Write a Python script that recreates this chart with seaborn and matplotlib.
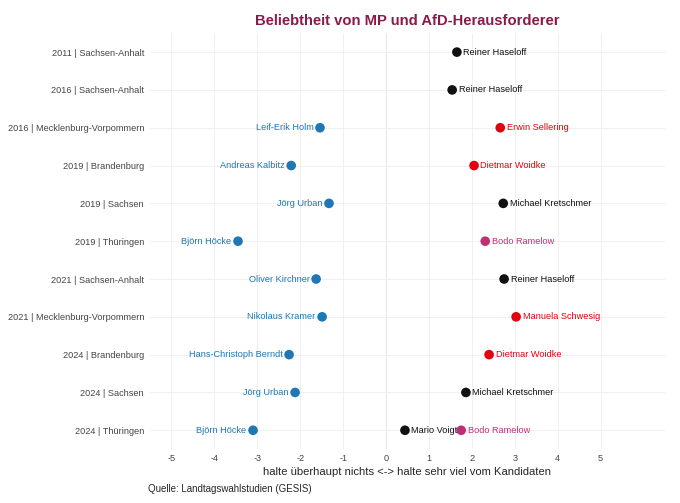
import matplotlib
matplotlib.use("Agg")
import matplotlib.pyplot as plt
import seaborn as sns
import pandas as pd

elections = ["2011 | Sachsen-Anhalt", "2016 | Sachsen-Anhalt", "2016 | Mecklenburg-Vorpommern",
             "2019 | Brandenburg", "2019 | Sachsen", "2019 | Thüringen", "2021 | Sachsen-Anhalt",
             "2021 | Mecklenburg-Vorpommern", "2024 | Brandenburg", "2024 | Sachsen", "2024 | Thüringen"]

# AfD challengers
afd_election = elections[2:]
afd_names = ["Leif-Erik Holm", "Andreas Kalbitz", "Jörg Urban", "Björn Höcke", "Oliver Kirchner",
             "Nikolaus Kramer", "Hans-Christoph Berndt", "Jörg Urban", "Björn Höcke"]
afd_values = [-1.54, -2.21, -1.33, -3.45, -1.63, -1.49, -2.26, -2.12, -3.10]

# Ministerpräsidenten (and CDU challenger 2024 TH)
mp_election = elections + ["2024 | Thüringen"]
mp_names = ["Reiner Haseloff", "Reiner Haseloff", "Erwin Sellering", "Dietmar Woidke", "Michael Kretschmer",
            "Bodo Ramelow", "Reiner Haseloff", "Manuela Schwesig", "Dietmar Woidke", "Michael Kretschmer",
            "Bodo Ramelow", "Mario Voigt"]
mp_values = [1.65, 1.54, 2.66, 2.05, 2.73, 2.31, 2.75, 3.03, 2.40, 1.86, 1.75, 0.44]
mp_party = ["CDU", "CDU", "SPD", "SPD", "CDU", "Linke", "CDU", "SPD", "SPD", "CDU", "Linke", "CDU"]

colors = {"AfD": "#1f77b4", "CDU": "#111111", "SPD": "#e3000f", "Linke": "#be3075"}

df = pd.concat([
    pd.DataFrame({"wahl": afd_election, "name": afd_names, "wert": afd_values, "partei": "AfD"}),
    pd.DataFrame({"wahl": mp_election, "name": mp_names, "wert": mp_values, "partei": mp_party}),
], ignore_index=True)
ypos = {w: i for i, w in enumerate(elections)}
df["y"] = df["wahl"].map(ypos)

sns.set_style("whitegrid")
plt.rcParams["font.family"] = ["Liberation Sans", "DejaVu Sans"]
plt.rcParams["axes.unicode_minus"] = False
fig, ax = plt.subplots(figsize=(6.8, 5.03), dpi=100)
ax.axvline(0, color="#cccccc", lw=0.8, zorder=0)
sns.scatterplot(data=df, x="wert", y="y", hue="partei", palette=colors, s=48,
                edgecolor="none", legend=False, ax=ax, zorder=3)

for _, r in df.iterrows():
    left = r["partei"] == "AfD"
    ax.text(r["wert"] + (-0.15 if left else 0.15), r["y"], r["name"],
            ha="right" if left else "left", va="center", fontsize=6.6, color=colors[r["partei"]])

ax.set_xlim(-5.51, 6.5)
ax.set_ylim(len(elections) - 0.5, -0.5)
ax.set_xticks(range(-5, 6))
ax.set_yticks(range(len(elections)))
ax.set_yticklabels(elections)
ax.tick_params(axis="both", labelsize=6.6, colors="#444444", length=0)
ax.tick_params(axis="y", pad=4)
ax.set_ylabel("")
ax.set_xlabel("halte überhaupt nichts <-> halte sehr viel vom Kandidaten", fontsize=8.1, labelpad=3)
for s in ax.spines.values():
    s.set_visible(False)
ax.grid(color="#eeeeee", lw=0.6)
ax.set_title("Beliebtheit von MP und AfD-Herausforderer", color="#8b1a4a",
             fontweight="bold", fontsize=10.6)
fig.subplots_adjust(left=0.22, right=0.978, top=0.934, bottom=0.107)
fig.text(0.218, 0.022, "Quelle: Landtagswahlstudien (GESIS)", fontsize=7)
fig.savefig("out.png", dpi=100)
